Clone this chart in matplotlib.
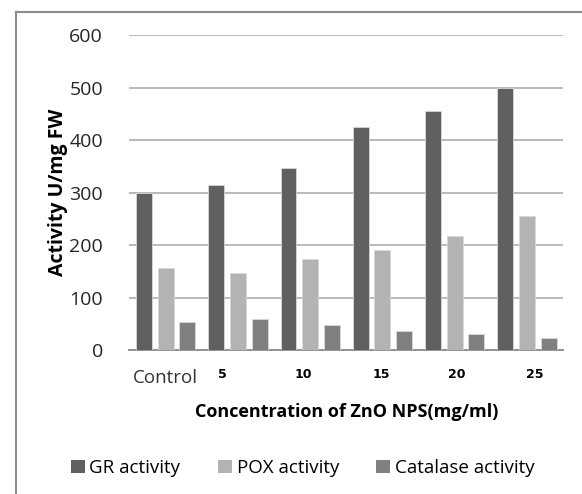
import numpy as np
import matplotlib.pyplot as plt
import matplotlib.transforms as mtransforms
from matplotlib.patches import Patch
from matplotlib.lines import Line2D

plt.rcParams['font.family'] = ['Open Sans', 'DejaVu Sans']

# Enzyme activity (U/mg FW) at each ZnO NP concentration
categories = ['Control', '5', '10', '15', '20', '25']
gr_activity = [299, 314, 347, 426, 456, 499]
pox_activity = [156, 146, 174, 191, 218, 255]
catalase_activity = [53, 59, 47, 37, 30, 22]

series = [('GR activity', gr_activity, '#606060'),
          ('POX activity', pox_activity, '#b3b3b3'),
          ('Catalase activity', catalase_activity, '#808080')]

fig = plt.figure(figsize=(5.82, 4.94), dpi=100)
ax = fig.add_axes([0.2225, 0.2915, 0.745, 0.637])

x = np.arange(len(categories))
width = 0.22
offsets = [-0.30, 0.0, 0.30]
for (name, vals, col), off in zip(series, offsets):
    ax.bar(x + off, vals, width, color=col, edgecolor='#d8d8d8', linewidth=0.6,
           label=name, zorder=3)

ax.set_xlim(-0.5, len(categories) - 0.5)
ax.set_ylim(0, 600)
ax.set_yticks(range(0, 601, 100))
ax.yaxis.grid(True, color='#b4b4b4', linewidth=1.3, zorder=0)
ax.set_axisbelow(True)
for s in ['top', 'right', 'left']:
    ax.spines[s].set_visible(False)
ax.spines['bottom'].set_color('#8c8c8c')
ax.spines['bottom'].set_linewidth(1.3)
ax.tick_params(axis='both', length=0)
ax.tick_params(axis='y', labelsize=14, pad=19, labelcolor='#262626')

# category labels drawn as text under each group; the numeric ones sit
# slightly off-centre, so each gets a small horizontal nudge (points)
ax.set_xticks(x)
ax.set_xticklabels([])
nudge = [0, -11, -5, -1, 1.7, 5.8]
base = ax.get_xaxis_transform()
for xi, lab, dx in zip(x, categories, nudge):
    if lab == 'Control':
        tr = base + mtransforms.ScaledTranslation(dx / 72, -20 / 72, fig.dpi_scale_trans)
        ax.text(xi, 0, lab, transform=tr, ha='center', va='center',
                fontsize=13.5, color='#333333')
    else:
        tr = base + mtransforms.ScaledTranslation(dx / 72, -18 / 72, fig.dpi_scale_trans)
        ax.text(xi, 0, lab, transform=tr, ha='center', va='center', fontsize=9,
                fontweight='bold', family=['Liberation Sans Narrow', 'DejaVu Sans'])

ax.set_xlabel('Concentration of ZnO NPS(mg/ml)', fontsize=13, fontweight='bold', va='center')
ax.xaxis.set_label_coords(0.5, -0.196)
ax.set_ylabel('Activity U/mg FW', fontsize=14, fontweight='bold', va='center')
ax.yaxis.set_label_coords(-0.166, 0.5)

handles = [Patch(facecolor=c, edgecolor='none') for _, _, c in series]
fig.legend(handles, [n for n, _, _ in series], loc='center', bbox_to_anchor=(0.52, 0.0526),
           ncol=3, frameon=False, fontsize=13.5, handlelength=0.75, handleheight=0.75,
           handletextpad=0.25, columnspacing=2.0)

# outer frame (left and top edges)
fx, fy = 15.6 / 582, 1 - 11.7 / 494
fig.add_artist(Line2D([fx, fx], [0, fy], color='#8a8a8a', linewidth=1.5))
fig.add_artist(Line2D([fx, 1], [fy, fy], color='#8a8a8a', linewidth=1.5))

fig.savefig('out.png', dpi=100)
